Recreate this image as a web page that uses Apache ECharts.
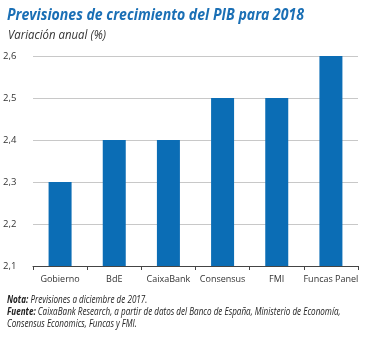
<!DOCTYPE html>
<html><head><meta charset="utf-8">
<script src="https://cdn.jsdelivr.net/npm/echarts@6/dist/echarts.min.js"></script>
<style>html,body{margin:0;padding:0;background:#fff}#c{width:366px;height:338px}</style>
</head><body><div id="c"></div>
<script>
const categories = ['Gobierno','BdE','CaixaBank','Consensus','FMI','Funcas Panel'];
const values = [2.3, 2.4, 2.4, 2.5, 2.5, 2.6];
const yTicks = [2.1, 2.2, 2.3, 2.4, 2.5, 2.6];

const chart = echarts.init(document.getElementById('c'), null, {renderer:'canvas'});
const sans = '"Open Sans", sans-serif';
const noteStyle = {fontFamily:sans, fontStyle:'italic', fontWeight:'normal', fontSize:10, fill:'#222'};
const noteRich = {b:{fontFamily:sans, fontStyle:'italic', fontWeight:'bold', fontSize:10, color:'#222'}};
chart.setOption({
  animation:false,
  graphic:[
    {type:'text', x:7, y:7, scaleX:0.88,
     style:{text:'Previsiones de crecimiento del PIB para 2018', fontFamily:sans, fontStyle:'italic', fontWeight:'bold', fontSize:16, fill:'#1a6fb5'}},
    {type:'text', x:8, y:30, scaleX:0.95,
     style:{text:'Variación anual (%)', fontFamily:sans, fontStyle:'italic', fontWeight:'normal', fontSize:12, fill:'#333'}},
    {type:'text', x:7, y:295, scaleX:0.81,
     style:Object.assign({text:'{b|Nota:} Previsiones a diciembre de 2017.', rich:noteRich}, noteStyle)},
    {type:'text', x:7, y:307, scaleX:0.81,
     style:Object.assign({text:'{b|Fuente:} CaixaBank Research, a partir de datos del Banco de España, Ministerio de Economía,', rich:noteRich}, noteStyle)},
    {type:'text', x:7, y:319, scaleX:0.81,
     style:Object.assign({text:'Consensus Economics, Funcas y FMI.'}, noteStyle)}
  ],
  grid:{left:28, right:8, top:56, height:210, containLabel:false},
  xAxis:{type:'category', data:categories,
    axisLine:{lineStyle:{color:'#444', width:1}},
    axisTick:{show:true, alignWithLabel:false, length:4, lineStyle:{color:'#444'}},
    axisLabel:{fontFamily:sans, fontSize:9, color:'#333', margin:9, interval:0}},
  yAxis:{type:'value', min:2.1, max:2.6, interval:0.1,
    axisLine:{show:false}, axisTick:{show:false},
    splitLine:{lineStyle:{color:'#c8c8c8', width:1}},
    axisLabel:{fontFamily:sans, fontSize:9.5, color:'#333', margin:8, align:'left',
      padding:[0,0,0,-22],
      formatter:v=>{const t=yTicks.find(x=>Math.abs(x-v)<1e-6); return t!==undefined? t.toFixed(1).replace('.',','):'';}}},
  series:[{type:'bar', data:values, barWidth:23, itemStyle:{color:'#0b6db5'}}]
});
</script></body></html>
